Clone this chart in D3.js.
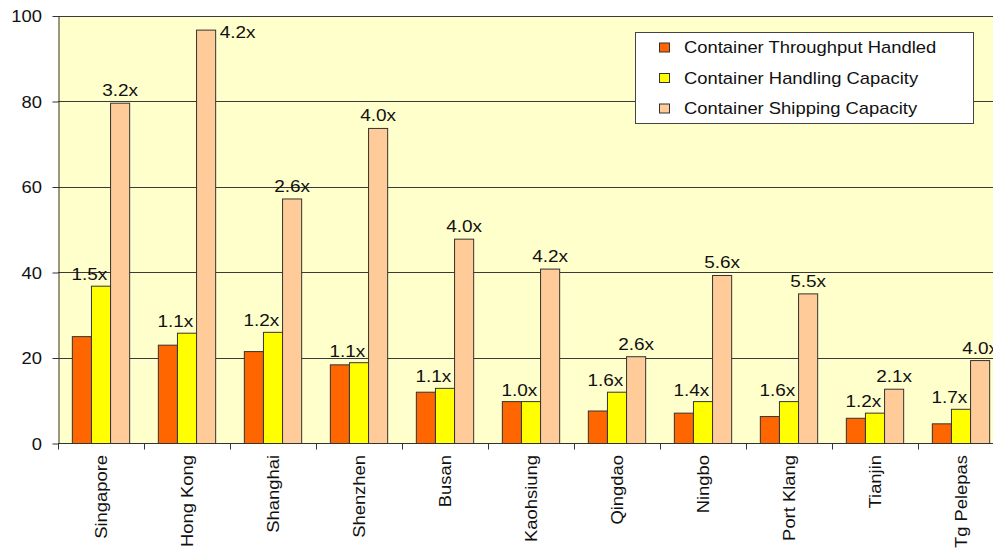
<!DOCTYPE html>
<html>
<head>
<meta charset="utf-8">
<script src="https://cdn.jsdelivr.net/npm/d3@7"></script>
<style>
  body { margin: 0; background: #fff; overflow: hidden; }
  svg text { font-family: "Liberation Sans", Arial, Helvetica, sans-serif; fill: #111; }
</style>
</head>
<body>
<svg id="chart" width="993" height="549"></svg>
<script>
// Port container statistics
const ports = ["Singapore", "Hong Kong", "Shanghai", "Shenzhen", "Busan", "Kaohsiung",
               "Qingdao", "Ningbo", "Port Klang", "Tianjin", "Tg Pelepas"];
const throughput = [25.0, 23.0, 21.5, 18.4, 12.0, 9.8, 7.6, 7.1, 6.3, 5.9, 4.6];
const handling   = [36.8, 25.8, 26.0, 18.9, 12.9, 9.8, 12.0, 9.8, 9.8, 7.1, 8.0];
const shipping   = [79.6, 96.7, 57.2, 73.7, 47.8, 40.8, 20.3, 39.3, 35.0, 12.7, 19.4];
const handlingRatio = ["1.5x", "1.1x", "1.2x", "1.1x", "1.1x", "1.0x", "1.6x", "1.4x", "1.6x", "1.2x", "1.7x"];
const shippingRatio = ["3.2x", "4.2x", "2.6x", "4.0x", "4.0x", "4.2x", "2.6x", "5.6x", "5.5x", "2.1x", "4.0x"];
const seriesNames = ["Container Throughput Handled", "Container Handling Capacity", "Container Shipping Capacity"];
const yTicks = [0, 20, 40, 60, 80, 100];

const colors = ["#FF6600", "#FFFF00", "#FFCC99"];
const seriesValues = [throughput, handling, shipping];
const SX = 1.15;               // horizontal stretch applied to all text
const INK = "#333";

const svg = d3.select("#chart");
const plot = { left: 58, top: 16, bottom: 443.5, step: 86 };
const plotRight = plot.left + plot.step * ports.length;

const x = d3.scaleBand().domain(ports).range([plot.left, plotRight]).padding(0);
const inner = d3.scaleBand().domain(d3.range(3)).range([0, x.bandwidth()])
  .paddingInner(0).paddingOuter(0.75);
const y = d3.scaleLinear().domain([0, 100]).range([plot.bottom, plot.top]);

// plot background
svg.append("rect")
  .attr("x", plot.left).attr("y", plot.top)
  .attr("width", plotRight - plot.left).attr("height", plot.bottom - plot.top)
  .attr("fill", "#FFFFCC");

// horizontal gridlines
svg.append("g").selectAll("line").data(yTicks.filter(d => d > 0)).join("line")
  .attr("x1", plot.left).attr("x2", plotRight)
  .attr("y1", d => Math.round(y(d)) + 0.5).attr("y2", d => Math.round(y(d)) + 0.5)
  .attr("stroke", "#3a3a3a").attr("stroke-width", 1);

// bars
const groups = svg.append("g").selectAll("g").data(ports).join("g")
  .attr("transform", p => `translate(${x(p)},0)`);
groups.selectAll("rect")
  .data((p, i) => seriesValues.map((vals, s) => ({ s, v: vals[i] })))
  .join("rect")
  .attr("x", d => inner(d.s))
  .attr("y", d => y(d.v))
  .attr("width", inner.bandwidth())
  .attr("height", d => y(0) - y(d.v))
  .attr("fill", d => colors[d.s])
  .attr("stroke", INK).attr("stroke-width", 1);

// y axis
const yAxis = svg.append("g")
  .attr("transform", `translate(${plot.left + 0.5},0)`)
  .call(d3.axisLeft(y).tickValues(yTicks).tickSize(6).tickSizeOuter(0));
yAxis.select(".domain").attr("stroke", INK);
yAxis.selectAll(".tick line").attr("stroke", INK);
yAxis.selectAll(".tick text")
  .attr("x", 0).attr("dy", "0.36em")
  .attr("transform", `translate(-16.5,0) scale(${SX},1)`)
  .attr("font-size", 16).attr("fill", "#111")
  .style("font-family", '"Liberation Sans", Arial, sans-serif');

// x axis line and category separators
svg.append("line")
  .attr("x1", plot.left).attr("x2", plotRight)
  .attr("y1", plot.bottom).attr("y2", plot.bottom)
  .attr("stroke", INK);
const bounds = ports.map(p => x(p)).concat([x.range()[1]]);
svg.append("g").selectAll("line").data(bounds).join("line")
  .attr("x1", d => Math.round(d) + 0.5).attr("x2", d => Math.round(d) + 0.5)
  .attr("y1", plot.bottom).attr("y2", plot.bottom + 6)
  .attr("stroke", INK);

// category labels
svg.append("g").selectAll("text").data(ports).join("text")
  .attr("transform", p => `translate(${x(p) + x.bandwidth() / 2},455) rotate(-90) scale(${SX},1)`)
  .attr("dy", "0.36em")
  .attr("text-anchor", "end")
  .attr("font-size", 16)
  .text(p => p);

// ratio labels
const labelSize = 16.5;
const capH = labelSize * 0.72;
const labels = svg.append("g");
ports.forEach((p, i) => {
  // handling capacity ratio, above the yellow bar
  const hx = x(p) + inner(1) - 2;
  labels.append("text")
    .attr("transform", `translate(${hx},${y(handling[i]) - 6}) scale(${SX},1)`)
    .attr("text-anchor", "middle").attr("font-size", labelSize)
    .text(handlingRatio[i]);

  // shipping capacity ratio, above the peach bar (or beside it when too tall)
  const top = y(shipping[i]);
  if (top - 7 - capH < plot.top) {
    labels.append("text")
      .attr("transform", `translate(${x(p) + inner(2) + inner.bandwidth() + 4},${top + 8}) scale(${SX},1)`)
      .attr("text-anchor", "start").attr("font-size", labelSize)
      .text(shippingRatio[i]);
  } else {
    labels.append("text")
      .attr("transform", `translate(${x(p) + inner(2) + inner.bandwidth() / 2},${top - 7}) scale(${SX},1)`)
      .attr("text-anchor", "middle").attr("font-size", labelSize)
      .text(shippingRatio[i]);
  }
});

// legend
const legend = svg.append("g").attr("transform", "translate(635.5,32.5)");
legend.append("rect")
  .attr("width", 338).attr("height", 91)
  .attr("fill", "#fff").attr("stroke", "#444");
const items = legend.selectAll("g").data(seriesNames).join("g")
  .attr("transform", (d, i) => `translate(0,${15 + i * 30.5})`);
items.append("rect")
  .attr("x", 24).attr("y", -4.5).attr("width", 10).attr("height", 9)
  .attr("fill", (d, i) => colors[i]).attr("stroke", INK);
items.append("text")
  .attr("transform", `translate(48.5,5.8) scale(${SX},1)`)
  .attr("font-size", 16)
  .text(d => d);
</script>
</body>
</html>
